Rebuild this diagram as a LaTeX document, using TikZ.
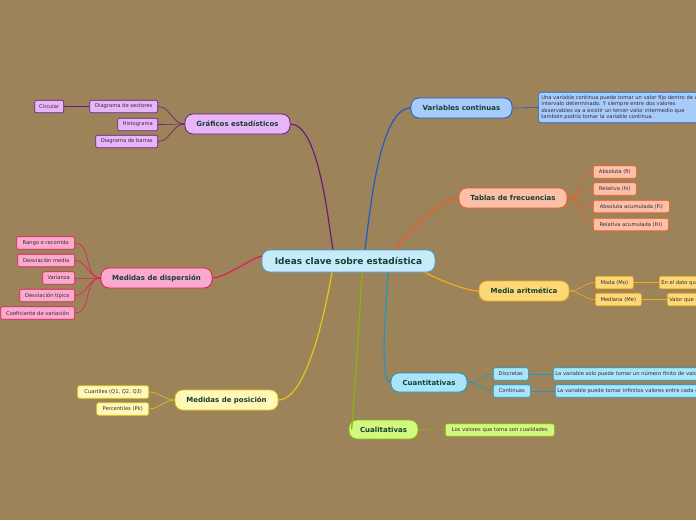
\documentclass[tikz,border=0pt]{standalone}
\usepackage{fontspec}
\setmainfont{DejaVu Sans}
\usetikzlibrary{positioning}
\definecolor{bgbrown}{RGB}{157,131,89}
\definecolor{inkmain}{RGB}{22,62,52}
\definecolor{inkleaf}{RGB}{55,40,50}
\definecolor{centrofill}{RGB}{198,236,252}
\definecolor{centroline}{RGB}{74,154,208}
\definecolor{grafill}{RGB}{232,182,248}
\definecolor{graline}{RGB}{105,28,125}
\definecolor{varfill}{RGB}{168,204,250}
\definecolor{varline}{RGB}{30,90,200}
\definecolor{tabfill}{RGB}{252,192,168}
\definecolor{tabline}{RGB}{240,90,35}
\definecolor{medfill}{RGB}{252,216,120}
\definecolor{medline}{RGB}{240,172,25}
\definecolor{cuafill}{RGB}{168,228,250}
\definecolor{cualine}{RGB}{30,150,200}
\definecolor{quafill}{RGB}{210,248,128}
\definecolor{qualine}{RGB}{135,180,15}
\definecolor{posfill}{RGB}{255,248,184}
\definecolor{posline}{RGB}{228,200,20}
\definecolor{disfill}{RGB}{250,170,205}
\definecolor{disline}{RGB}{228,25,95}
\tikzset{
    topic/.style = {draw, line width=0.8pt, rounded corners=8pt, minimum height=20pt, inner sep=2pt, font=\fontsize{7}{8}\selectfont\bfseries, text=inkmain},
    leaf/.style = {draw, line width=0.6pt, rounded corners=2pt, minimum height=12.5pt, inner sep=2pt, font=\fontsize{5.2}{6.5}\selectfont, text=inkleaf},
    branch/.style = {line width=1.2pt, looseness=0.55},
    twig/.style = {line width=0.6pt},
}

\begin{document}
\begin{tikzpicture}[x=1pt, y=-1pt]
            \clip (0, 0) rectangle (696, 520);
            \fill[bgbrown] (0, 0) rectangle (696, 520);

            % center
            \node[topic, fill=centrofill, draw=centroline, minimum width=173pt, minimum height=22pt, font=\fontsize{9}{10}\selectfont\bfseries] (centro) at (348.5, 261) {Ideas clave sobre estadística};

            % graficos
            \node[topic, fill=grafill, draw=graline, minimum width=105pt] (graficos) at (237.5, 124) {Gráficos estadísticos};
            \node[leaf, fill=grafill, draw=graline, minimum width=68pt, anchor=east] (sectores) at (158, 106.5) {Diagrama de sectores};
            \node[leaf, fill=grafill, draw=graline, minimum width=29pt, anchor=east] (circular) at (64, 106.5) {Circular};
            \node[leaf, fill=grafill, draw=graline, minimum width=40pt, anchor=east] (histograma) at (158, 124.5) {Histograma};
            \node[leaf, fill=grafill, draw=graline, minimum width=62pt, anchor=east] (barras) at (158, 141.5) {Diagrama de barras};

            % variables continuas
            \node[topic, fill=varfill, draw=varline, minimum width=101pt] (varcont) at (461.5, 108) {Variables continuas};
            \node[leaf, fill=varfill, draw=varline, anchor=west, align=left, rounded corners=3pt, inner sep=3pt] (vardesc) at (538, 107.5) {Una variable continua puede tomar un valor fijo dentro de un\\intervalo determinado. Y siempre entre dos valores\\observables va a existir un tercer valor intermedio que\\también podría tomar la variable continua.};

            % tablas
            \node[topic, fill=tabfill, draw=tabline, minimum width=108pt] (tablas) at (513, 198) {Tablas de frecuencias};
            \node[leaf, fill=tabfill, draw=tabline, minimum width=43pt, anchor=west] (absfi) at (593, 172) {Absoluta (fi)};
            \node[leaf, fill=tabfill, draw=tabline, minimum width=43pt, anchor=west] (relhi) at (593, 189) {Relativa (hi)};
            \node[leaf, fill=tabfill, draw=tabline, minimum width=76pt, anchor=west] (absFi) at (593, 206.5) {Absoluta acumulada (Fi)};
            \node[leaf, fill=tabfill, draw=tabline, minimum width=75pt, anchor=west] (relHi) at (593, 224.5) {Relativa acumulada (Hi)};

            % media
            \node[topic, fill=medfill, draw=medline, minimum width=90pt] (media) at (524, 291) {Media aritmética};
            \node[leaf, fill=medfill, draw=medline, minimum width=38pt, anchor=west] (moda) at (595, 282.5) {Moda (Mo)};
            \node[leaf, fill=medfill, draw=medline, minimum width=46pt, anchor=west] (mediana) at (595, 299.5) {Mediana (Me)};
            \node[leaf, fill=medfill, draw=medline, anchor=west] (modadesc) at (659, 282.5) {En el dato que más se repite};
            \node[leaf, fill=medfill, draw=medline, anchor=west] (medianadesc) at (667, 299.5) {Valor que ocupa la posición central};

            % cuantitativas
            \node[topic, fill=cuafill, draw=cualine, minimum width=76pt, minimum height=19pt] (cuanti) at (429, 382.5) {Cuantitativas};
            \node[leaf, fill=cuafill, draw=cualine, minimum width=35pt, anchor=west] (discretas) at (493, 374) {Discretas};
            \node[leaf, fill=cuafill, draw=cualine, minimum width=37pt, anchor=west] (continuas) at (493, 391) {Continuas};
            \node[leaf, fill=cuafill, draw=cualine, anchor=west] (discdesc) at (553, 374) {La variable solo puede tomar un número finito de valores};
            \node[leaf, fill=cuafill, draw=cualine, anchor=west] (contdesc) at (555, 391) {La variable puede tomar infinitos valores entre cada dos valores};

            % cualitativas
            \node[topic, fill=quafill, draw=qualine, minimum width=69pt, minimum height=19pt] (cualit) at (383.5, 429.5) {Cualitativas};
            \node[leaf, fill=quafill, draw=qualine, minimum width=109pt, anchor=west] (cualdesc) at (445, 430) {Los valores que toma son cualidades};

            % posicion
            \node[topic, fill=posfill, draw=posline, minimum width=103pt] (posicion) at (226.5, 400) {Medidas de posición};
            \node[leaf, fill=posfill, draw=posline, minimum width=71pt, anchor=east] (cuartiles) at (149, 392) {Cuartiles (Q1, Q2, Q3)};
            \node[leaf, fill=posfill, draw=posline, minimum width=52pt, anchor=east] (percentiles) at (149, 409) {Percentiles (Pk)};

            % dispersion
            \node[topic, fill=disfill, draw=disline, minimum width=111pt] (dispersion) at (156.5, 278) {Medidas de dispersión};
            \node[leaf, fill=disfill, draw=disline, minimum width=58pt, anchor=east] (rango) at (75, 243) {Rango o recorrido};
            \node[leaf, fill=disfill, draw=disline, minimum width=57pt, anchor=east] (desvmedia) at (75, 260.5) {Desviación media};
            \node[leaf, fill=disfill, draw=disline, minimum width=32pt, anchor=east] (varianza) at (75, 278) {Varianza};
            \node[leaf, fill=disfill, draw=disline, minimum width=55pt, anchor=east] (desvtipica) at (75, 295.5) {Desviación típica};
            \node[leaf, fill=disfill, draw=disline, minimum width=74pt, anchor=east] (coef) at (75, 313) {Coeficiente de variación};

            % branches from center
            \draw[branch, graline] ([xshift=-15.5pt]centro.north) to[out=100, in=0] (graficos.east);
            \draw[branch, varline] ([xshift=16.5pt]centro.north) to[out=82, in=180] (varcont.west);
            \draw[branch, tabline] ([xshift=46.5pt]centro.north) to[out=55, in=180] (tablas.west);
            \draw[branch, medline] ([xshift=76.5pt]centro.south) to[out=-30, in=180] (media.west);
            \draw[branch, cualine] ([xshift=39.5pt]centro.south) to[out=-90, in=180, looseness=0.3] (cuanti.west);
            \draw[branch, qualine] ([xshift=13.5pt]centro.south) to[out=-93, in=85] ([xshift=3pt]cualit.west);
            \draw[branch, posline] ([xshift=-16.5pt]centro.south) to[out=-100, in=0] (posicion.east);
            \draw[branch, disline] ([yshift=5pt]centro.west) to[out=195, in=0] (dispersion.east);

            % twigs
            \draw[twig, graline] (graficos.west) to[out=180, in=0] (sectores.east);
            \draw[twig, graline] (graficos.west) to[out=180, in=0] (histograma.east);
            \draw[twig, graline] (graficos.west) to[out=180, in=0] (barras.east);
            \draw[twig, graline] (sectores.west) -- (circular.east);
            \draw[twig, varline] (varcont.east) -- (vardesc.west);
            \draw[twig, tabline] (tablas.east) to[out=0, in=180] (absfi.west);
            \draw[twig, tabline] (tablas.east) to[out=0, in=180] (relhi.west);
            \draw[twig, tabline] (tablas.east) to[out=0, in=180] (absFi.west);
            \draw[twig, tabline] (tablas.east) to[out=0, in=180] (relHi.west);
            \draw[twig, medline] (media.east) to[out=0, in=180] (moda.west);
            \draw[twig, medline] (media.east) to[out=0, in=180] (mediana.west);
            \draw[twig, medline] (moda.east) -- (modadesc.west);
            \draw[twig, medline] (mediana.east) -- (medianadesc.west);
            \draw[twig, cualine] (cuanti.east) to[out=0, in=180] (discretas.west);
            \draw[twig, cualine] (cuanti.east) to[out=0, in=180] (continuas.west);
            \draw[twig, cualine] (discretas.east) -- (discdesc.west);
            \draw[twig, cualine] (continuas.east) -- (contdesc.west);
            \draw[twig, qualine] (cualit.east) -- (cualdesc.west);
            \draw[twig, posline] (posicion.west) to[out=180, in=0] (cuartiles.east);
            \draw[twig, posline] (posicion.west) to[out=180, in=0] (percentiles.east);
            \draw[twig, disline] (dispersion.west) to[out=180, in=0] (rango.east);
            \draw[twig, disline] (dispersion.west) to[out=180, in=0] (desvmedia.east);
            \draw[twig, disline] (dispersion.west) to[out=180, in=0] (varianza.east);
            \draw[twig, disline] (dispersion.west) to[out=180, in=0] (desvtipica.east);
            \draw[twig, disline] (dispersion.west) to[out=180, in=0] (coef.east);
        \end{tikzpicture}
\end{document}
